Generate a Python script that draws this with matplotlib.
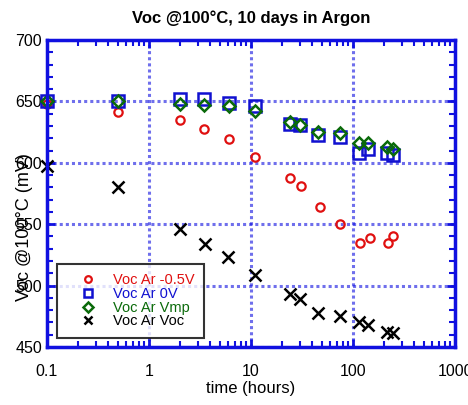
import numpy as np
import matplotlib.pyplot as plt
from matplotlib.ticker import MultipleLocator, LogLocator, NullFormatter

plt.rcParams['font.family'] = ['Liberation Sans', 'DejaVu Sans']

# time (hours) and Voc (mV)
t_neg = [0.1, 0.5, 2, 3.44, 6.1, 11, 24, 31, 47, 75, 117, 145, 218, 245]
v_neg = [648, 641, 635, 627.5, 619, 605, 588, 581, 564, 550, 535, 539, 535, 540]

t_0v = [0.1, 0.5, 2, 3.44, 6.1, 11, 24, 30, 45, 75, 115, 140, 215, 245]
v_0v = [650, 650, 652, 652, 649, 646, 632, 631, 623, 621, 608, 611, 608, 606]

t_vmp = [0.1, 0.5, 2, 3.44, 6.1, 11, 24, 30, 45, 75, 115, 140, 215, 245]
v_vmp = [650, 650, 648, 647, 646, 642, 633, 631, 625, 624, 616, 616, 613, 611]

t_voc = [0.1, 0.5, 2, 3.5, 6, 11, 24, 30, 45, 74, 115, 140, 215, 245]
v_voc = [597, 580, 546, 534, 523, 509, 493, 489, 478, 475, 470, 468, 462, 461]

blue = '#1010e0'

fig = plt.figure(figsize=(4.68, 4.05), dpi=100)
ax = fig.add_axes([0.1004, 0.1432, 0.872, 0.758])

ax.plot(t_neg, v_neg, 'o', ms=6, mfc='none', mec='#e01010', mew=1.6, label='Voc Ar -0.5V', clip_on=False)
ax.plot(t_0v, v_0v, 's', ms=8, mfc='none', mec='#1010d0', mew=1.8, label='Voc Ar 0V', clip_on=False)
ax.plot(t_vmp, v_vmp, 'D', ms=6, mfc='none', mec='#0a6a0a', mew=1.8, label='Voc Ar Vmp', clip_on=False)
ax.plot(t_voc, v_voc, 'x', ms=8, mec='black', mew=1.8, label='Voc Ar Voc', clip_on=False)

ax.set_xscale('log')
ax.set_xlim(0.1, 1000)
ax.set_ylim(450, 700)
ax.set_xticks([0.1, 1, 10, 100, 1000])
ax.set_xticklabels(['0.1', '1', '10', '100', '1000'])
ax.xaxis.set_minor_locator(LogLocator(base=10, subs=np.arange(2, 10)))
ax.xaxis.set_minor_formatter(NullFormatter())
ax.yaxis.set_major_locator(MultipleLocator(50))
ax.yaxis.set_minor_locator(MultipleLocator(10))

ax.grid(True, which='major', color=blue, ls=(0, (1, 1)), lw=2.2, alpha=0.6)
for s in ax.spines.values():
    s.set_color(blue)
    s.set_linewidth(2.5)
ax.tick_params(which='both', direction='in', top=True, right=True, color=blue,
               labelsize=11.5)
ax.tick_params(which='major', length=6, width=2)
ax.tick_params(which='minor', length=4, width=1.5)
ax.tick_params(axis='x', which='major', pad=12)

ax.set_title('Voc @100°C, 10 days in Argon', fontsize=12, fontweight='bold', pad=12)
ax.set_xlabel('time (hours)', fontsize=12, labelpad=2)
ax.set_ylabel('Voc @100°C (mV)', fontsize=13)
ax.yaxis.set_label_coords(-0.035, 0.39)

leg = ax.legend(loc='lower left', bbox_to_anchor=(0.024, 0.03), borderaxespad=0,
                fontsize=10.5, frameon=True, fancybox=False, edgecolor='black',
                handletextpad=0.2, borderpad=0.65, labelspacing=-0.02,
                handlelength=3.0, markerscale=0.8)
leg.get_frame().set_linewidth(1.5)
for txt, c in zip(leg.get_texts(), ['#e01010', '#1010d0', '#0a6a0a', 'black']):
    txt.set_color(c)

fig.savefig('out.png', dpi=100)
